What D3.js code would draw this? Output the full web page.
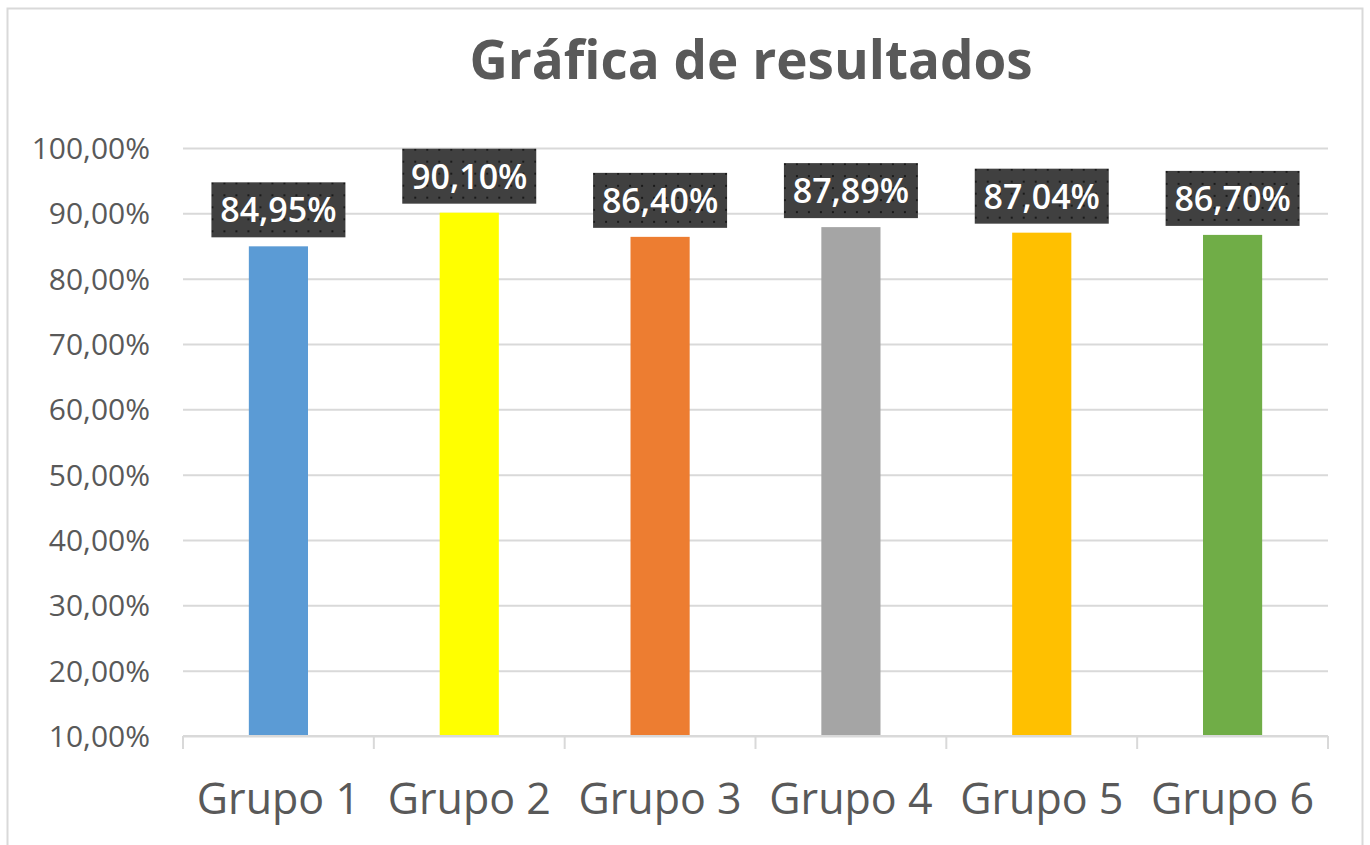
<!DOCTYPE html>
<html>
<head>
<meta charset="utf-8">
<script src="https://cdn.jsdelivr.net/npm/d3@7"></script>
<style>
  body { margin: 0; background: #fff; }
  text { font-family: "Open Sans", "Noto Sans", sans-serif; }
</style>
</head>
<body>
<div id="chart"></div>
<script>
// Data
const grupos = ["Grupo 1", "Grupo 2", "Grupo 3", "Grupo 4", "Grupo 5", "Grupo 6"];
const resultados = [84.95, 90.10, 86.40, 87.89, 87.04, 86.70];
const colores = ["#5B9BD5", "#FFFF00", "#ED7D31", "#A5A5A5", "#FFC000", "#70AD47"];
const yTicks = [10, 20, 30, 40, 50, 60, 70, 80, 90, 100];

const width = 1370,
    height = 845,
    margin = ({ top: 148, right: 42, bottom: 109, left: 183 });

const svg = d3.select("#chart")
    .append("svg")
    .attr("width", width)
    .attr("height", height);

// Dotted fill for the label boxes
const pat = svg.append("defs").append("pattern")
    .attr("id", "dots")
    .attr("width", 12).attr("height", 12)
    .attr("patternUnits", "userSpaceOnUse");
pat.append("rect").attr("width", 12).attr("height", 12).attr("fill", "#404040");
pat.append("rect").attr("x", 5).attr("y", 5).attr("width", 2).attr("height", 2).attr("fill", "#1a1a1a");

// outer frame
svg.append("rect")
    .attr("x", 7.5).attr("y", 8.5)
    .attr("width", 1355).attr("height", 845)
    .attr("fill", "none")
    .attr("stroke", "#d9d9d9")
    .attr("stroke-width", 2);

const fmt = v => d3.format(".2f")(v).replace(".", ",") + "%";

let x = d3.scaleBand()
    .domain(grupos)
    .range([margin.left, width - margin.right])
    .paddingInner(0.69)
    .paddingOuter(0.345);

let xAxisScale = d3.scaleBand()
    .domain(grupos)
    .range([margin.left, width - margin.right]);

let y = d3.scaleLinear()
    .domain([10, 100])
    .range([height - margin.bottom, margin.top]);

// gridlines + y labels
svg.append("g")
    .attr("class", "y-axis")
    .attr("transform", `translate(${margin.left},0)`)
    .call(d3.axisLeft(y).tickValues(yTicks).tickFormat(fmt)
        .tickSize(-(width - margin.left - margin.right)).tickPadding(33))
    .call(g => g.select(".domain").remove())
    .call(g => g.selectAll(".tick line").attr("stroke", "#d9d9d9").attr("stroke-width", 2))
    .call(g => g.selectAll(".tick text")
        .attr("fill", "#595959")
        .attr("font-size", 30)
        .attr("dy", "0.35em"));

// bars
svg.selectAll(".bar")
    .data(resultados)
    .join("rect")
    .attr("class", "bar")
    .attr("x", (d, i) => x(grupos[i]))
    .attr("y", d => y(d))
    .attr("width", x.bandwidth())
    .attr("height", d => y(10) - y(d))
    .attr("fill", (d, i) => colores[i]);

// x axis with ticks at category boundaries
const xa = svg.append("g")
    .attr("transform", `translate(0,${height - margin.bottom})`);
xa.append("line")
    .attr("x1", margin.left).attr("x2", width - margin.right)
    .attr("stroke", "#d9d9d9").attr("stroke-width", 2);
xa.selectAll(".bound")
    .data(grupos.concat(["end"]))
    .join("line")
    .attr("class", "bound")
    .attr("x1", (d, i) => i < grupos.length ? xAxisScale(d) : xAxisScale.range()[1])
    .attr("x2", (d, i) => i < grupos.length ? xAxisScale(d) : xAxisScale.range()[1])
    .attr("y1", 0).attr("y2", 13)
    .attr("stroke", "#d9d9d9").attr("stroke-width", 2);
xa.selectAll(".lbl")
    .data(grupos)
    .join("text")
    .attr("class", "lbl")
    .attr("x", d => xAxisScale(d) + xAxisScale.bandwidth() / 2)
    .attr("y", 78)
    .attr("text-anchor", "middle")
    .attr("fill", "#595959")
    .attr("font-size", 43)
    .text(d => d);

// data labels
const lab = svg.selectAll(".dlabel")
    .data(resultados)
    .join("g")
    .attr("class", "dlabel")
    .attr("transform", (d, i) => `translate(${x(grupos[i]) + x.bandwidth() / 2},${y(d) - 9})`);
lab.append("rect")
    .attr("x", -67).attr("y", -55)
    .attr("width", 134).attr("height", 55)
    .attr("fill", "url(#dots)");
lab.append("text")
    .attr("y", -15)
    .attr("text-anchor", "middle")
    .attr("fill", "#fff")
    .attr("font-size", 34)
    .attr("font-weight", 600)
    .text(d => fmt(d));

// title
svg.append("text")
    .attr("x", 751)
    .attr("y", 79)
    .attr("text-anchor", "middle")
    .attr("fill", "#595959")
    .attr("font-size", 53)
    .attr("font-weight", "bold")
    .text("Gráfica de resultados");
</script>
</body>
</html>
